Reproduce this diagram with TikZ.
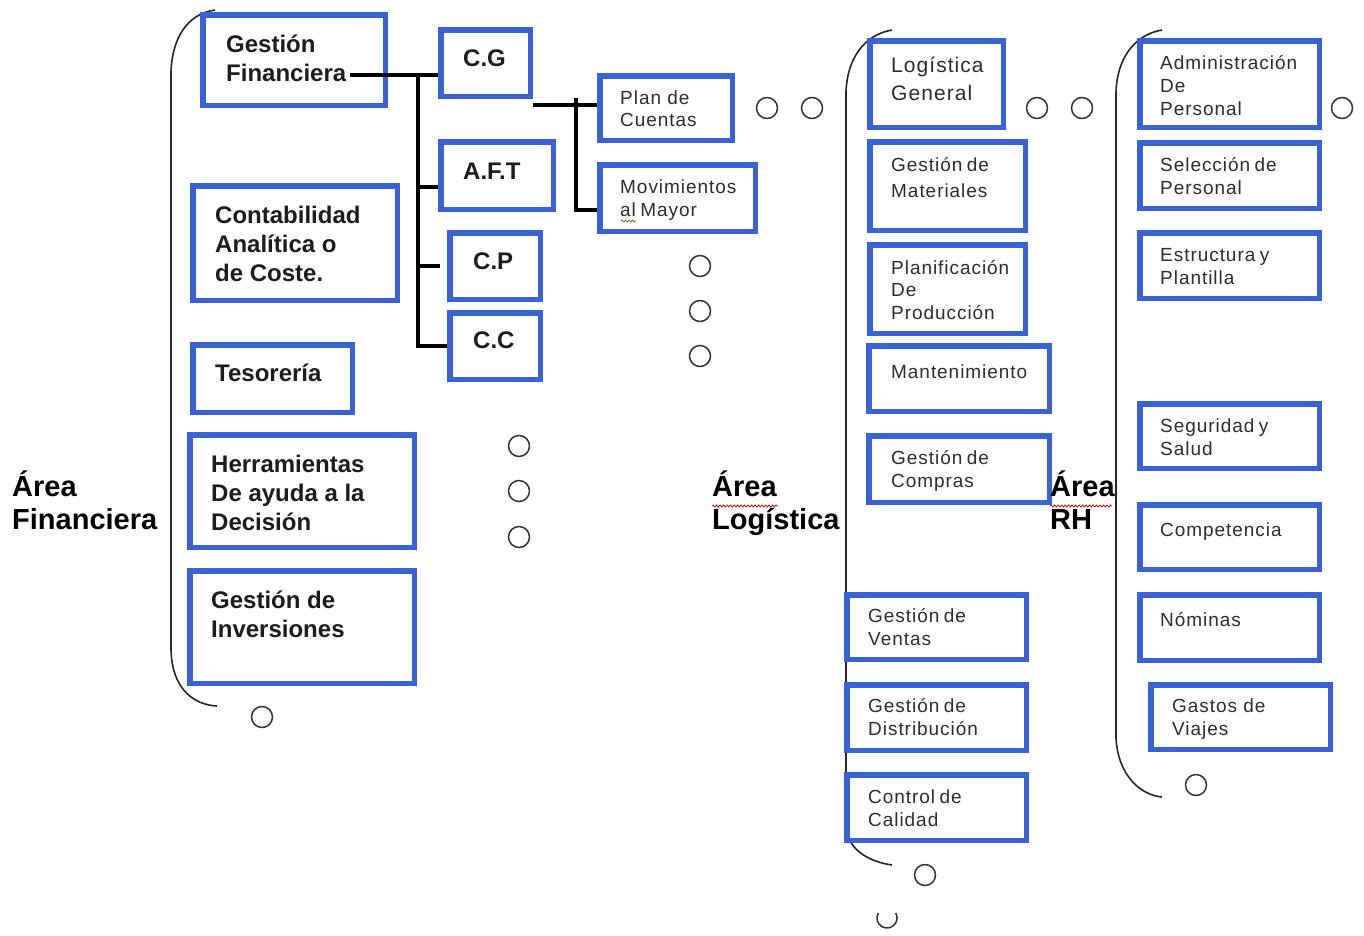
\documentclass[tikz,border=0pt]{standalone}
\usepackage{fontspec}
\setmainfont{Liberation Sans}
\newfontfamily\boxfont[LetterSpace=5]{Liberation Sans}
\usetikzlibrary{decorations.pathmorphing}
\definecolor{boxblue}{RGB}{58,98,215}
\definecolor{ink}{RGB}{28,28,28}
\definecolor{softink}{RGB}{45,45,45}
% text lines stacked, baseline = first line
\newcommand\stack[1]{\begin{tabular}[t]{@{}l@{}}#1\end{tabular}}
\newcommand\nsp{\kern4.5pt}
% box by outer corners: name, x1, y1, x2, y2
\newcommand\bx[5]{\node[bx, minimum width={#4-#2-5.5}, minimum height={#5-#3-5.5}] (#1) at ({(#2+#4)/2},{(#3+#5)/2}) {};}
\tikzset{
  bx/.style={draw=boxblue, line width=5.5pt, fill=white, inner sep=0pt, outer sep=2.75pt, rectangle},
  tb/.style={anchor=base west, inner sep=0pt, text=ink, font=\bfseries\fontsize{24}{29}\selectfont},
  tr/.style={anchor=base west, inner sep=0pt, text=softink, font=\boxfont\fontsize{19}{23}\selectfont},
  ta/.style={anchor=base west, inner sep=0pt, text=black, font=\bfseries\fontsize{29}{33}\selectfont},
  conn/.style={draw=black, line width=3.2pt},
  brace/.style={draw=black!85, line width=1.6pt},
  ring/.style={circle, draw=black!80, line width=1.5pt, minimum size=21pt, inner sep=0pt},
  wavy/.style={draw=red!80!black, line width=0.7pt, decorate, decoration={snake, amplitude=1.1pt, segment length=3.5pt}}
}
\begin{document}
\begin{tikzpicture}[x=1pt, y=-1pt]
\useasboundingbox (0,0) rectangle (1364,935);

% group brackets
\draw[brace] (215,10) .. controls (186,14) and (172,40) .. (171,72) -- (171,650) .. controls (172,690) and (195,705) .. (217,706);
\draw[brace] (892,30) .. controls (863,35) and (847,60) .. (846,92) -- (846,828) .. controls (848,850) and (870,862) .. (892,865);
\draw[brace] (1162,30) .. controls (1133,35) and (1117,60) .. (1116,92) -- (1116,738) .. controls (1118,775) and (1140,795) .. (1162,797);

% financial area
\bx{gf}{200}{12}{388}{108}
\bx{cac}{190}{183}{400}{303}
\bx{tes}{190}{342}{355}{415}
\bx{her}{187}{432}{417}{550}
\bx{gin}{187}{568}{417}{686}
\bx{cg}{438}{27}{533}{99}
\bx{aft}{438}{139}{556}{212}
\bx{cp}{447}{230}{543}{302}
\bx{cc}{447}{310}{543}{382}
\bx{pc}{597}{73}{735}{143}
\bx{mm}{597}{162}{758}{234}

\node[tb] (gf-t) at (226,52) {\stack{Gestión\\Financiera}};
\node[tb] (cac-t) at (215,223) {\stack{Contabilidad\\Analítica o\\de Coste.}};
\node[tb] (tes-t) at (215,381) {Tesorería};
\node[tb] (her-t) at (211,472) {\stack{Herramientas\\De ayuda a la\\Decisión}};
\node[tb] (gin-t) at (211,608) {\stack{Gestión de\\Inversiones}};
\node[tb] (cg-t) at (463,66) {C.G};
\node[tb] (aft-t) at (463,179) {A.F.T};
\node[tb] (cp-t) at (473,269) {C.P};
\node[tb] (cc-t) at (473,348) {C.C};
\node[tr, font=\boxfont\fontsize{19}{22}\selectfont] (pc-t) at (620,104) {\stack{Plan de\\Cuentas}};
\node[tr] (mm-t) at (620,193) {\stack{Movimientos\\al\nsp Mayor}};

% connectors
\coordinate (gfout) at (350,75);
\coordinate (j1) at (418,75);
\draw[conn] (gfout) -- (gfout -| cg.west);
\draw[conn] (j1) |- (cc.west);
\draw[conn] ([yshift=-11.5pt]aft.west) -- ++(-20,0);
\draw[conn] ([xshift=-7pt]cp.west) -- ++(-22,0);
\coordinate (cgout) at ([yshift=-6pt]cg.south east);
\coordinate (j2) at (576,98);
\draw[conn] (cgout) -- (cgout -| pc.west);
\draw[conn] (j2) |- ([yshift=-12pt]mm.west);

% logistics area
\bx{lg}{867}{38}{1006}{130}
\bx{gm}{867}{139}{1028}{233}
\bx{pp}{867}{242}{1028}{336}
\bx{mt}{866}{343}{1052}{414}
\bx{gc}{866}{433}{1052}{505}
\bx{gv}{844}{592}{1029}{662}
\bx{gd}{844}{682}{1029}{753}
\bx{cq}{844}{772}{1029}{843}

\node[tr, font=\boxfont\fontsize{21}{28}\selectfont] (lg-t) at (891,72) {\stack{Logística\\General}};
\node[tr, font=\boxfont\fontsize{19}{26}\selectfont] (gm-t) at (891,171) {\stack{Gestión\nsp de\\Materiales}};
\node[tr, font=\boxfont\fontsize{19}{22.5}\selectfont] (pp-t) at (891,274) {\stack{Planificación\\De\\Producción}};
\node[tr] (mt-t) at (891,378) {Mantenimiento};
\node[tr] (gc-t) at (891,464) {\stack{Gestión\nsp de\\Compras}};
\node[tr] (gv-t) at (868,622) {\stack{Gestión\nsp de\\Ventas}};
\node[tr] (gd-t) at (868,712) {\stack{Gestión\nsp de\\Distribución}};
\node[tr] (cq-t) at (868,803) {\stack{Control\nsp de\\Calidad}};

% human resources area
\bx{ap}{1137}{38}{1322}{130}
\bx{sp}{1137}{140}{1322}{211}
\bx{ep}{1137}{230}{1322}{301}
\bx{ss}{1137}{401}{1322}{471}
\bx{co}{1137}{502}{1322}{572}
\bx{no}{1137}{592}{1322}{663}
\bx{gvj}{1148}{682}{1333}{752}

\node[tr] (ap-t) at (1160,69) {\stack{Administración\\De\\Personal}};
\node[tr] (sp-t) at (1160,171) {\stack{Selección\nsp de\\Personal}};
\node[tr] (ep-t) at (1160,261) {\stack{Estructura\nsp y\\Plantilla}};
\node[tr] (ss-t) at (1160,432) {\stack{Seguridad\nsp y\\Salud}};
\node[tr] (co-t) at (1160,536) {Competencia};
\node[tr] (no-t) at (1160,626) {Nóminas};
\node[tr] (gvj-t) at (1172,712) {\stack{Gastos de\\Viajes}};

% area titles
\node[ta] (af) at (12,496) {\stack{Área\\Financiera}};
\node[ta] (al) at (712,496) {\stack{Área\\Logística}};
\node[ta] (arh) at (1050,496) {\stack{Área\\RH}};

% spelling marks
\draw[wavy] (712,506) -- (778,506);
\draw[wavy] (1050,506) -- (1112,506);
\draw[wavy, draw=olive!70!black] (621,221) -- (636,221);

% small circles
\node[ring] (o1) at (767,108) {};
\node[ring] (o2) at (812,108) {};
\node[ring] (o3) at (700,266) {};
\node[ring] (o4) at (700,311) {};
\node[ring] (o5) at (700,356) {};
\node[ring] (o6) at (519,446) {};
\node[ring] (o7) at (519,491) {};
\node[ring] (o8) at (519,537) {};
\node[ring] (o9) at (262,717) {};
\node[ring] (o10) at (1037,108) {};
\node[ring] (o11) at (1082,108) {};
\node[ring] (o12) at (1342,108) {};
\node[ring] (o13) at (925,875) {};
\node[ring] (o14) at (1196,785) {};
\draw[draw=black!80, line width=1.5pt] (887,918) ++(-150:10) arc[start angle=-150, end angle=-390, radius=10];
\end{tikzpicture}
\end{document}
